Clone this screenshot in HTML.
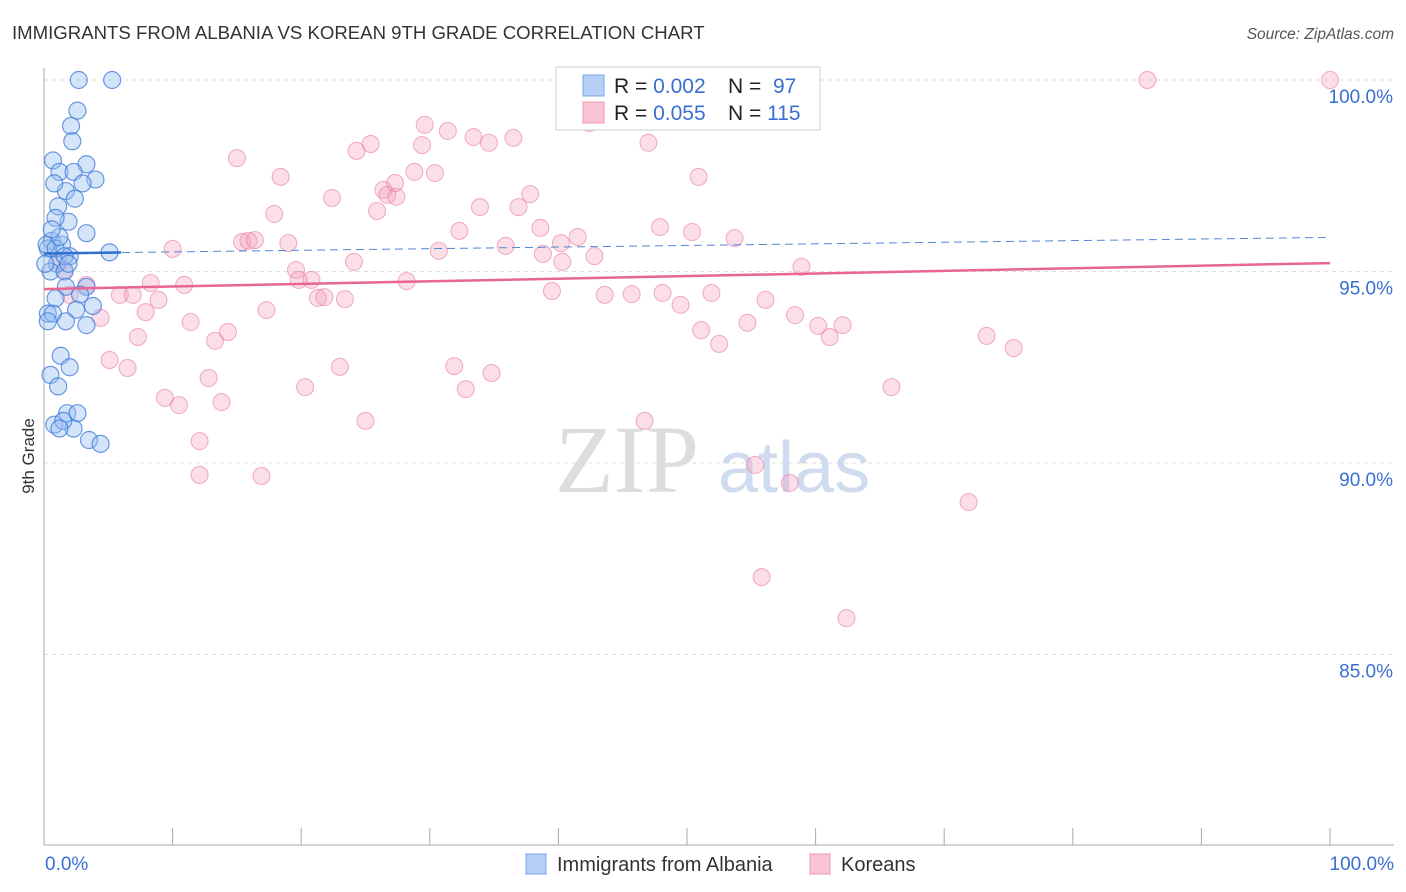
<!DOCTYPE html>
<html><head><meta charset="utf-8">
<style>
body{margin:0;background:#fff;font-family:"Liberation Sans",sans-serif;}
svg{display:block}
</style></head>
<body>
<svg id="chart" width="1406" height="892">
<text x="12" y="39" font-size="18.6" fill="#333">IMMIGRANTS FROM ALBANIA VS KOREAN 9TH GRADE CORRELATION CHART</text>
<text x="1394" y="39" font-size="15.5" fill="#555" text-anchor="end" font-style="italic">Source: ZipAtlas.com</text>
<text x="34" y="456" font-size="17" fill="#333" transform="rotate(-90 34 456)" text-anchor="middle">9th Grade</text>
<g id="grid"></g>
<text x="555" y="492" font-size="96" fill="#ddd" font-family="Liberation Serif,serif">ZIP</text>
<text x="718" y="492" font-size="72" fill="#cfdcf0">atlas</text>
<g id="marks"></g>
<g id="legend">
<rect x="556" y="67" width="264" height="63" fill="#fff" stroke="#ccc"/>
<rect x="583" y="75" width="21" height="21" fill="#b6d0f5" stroke="#7aa5e6"/>
<rect x="583" y="102" width="21" height="21" fill="#f9c4d3" stroke="#ee9ab3"/>
<text x="614" y="93" font-size="21" fill="#222">R = <tspan fill="#3a6fd0">0.002</tspan></text>
<text x="728" y="93" font-size="21" fill="#222">N = <tspan fill="#3a6fd0">&#160;97</tspan></text>
<text x="614" y="120" font-size="21" fill="#222">R = <tspan fill="#3a6fd0">0.055</tspan></text>
<text x="728" y="120" font-size="21" fill="#222">N = <tspan fill="#3a6fd0">115</tspan></text>
</g>
<g>
<rect x="526" y="854" width="20" height="20" fill="#b6d0f5" stroke="#7aa5e6"/>
<text x="557" y="871" font-size="20" fill="#333">Immigrants from Albania</text>
<rect x="810" y="854" width="20" height="20" fill="#f9c4d3" stroke="#ee9ab3"/>
<text x="841" y="871" font-size="20" fill="#333">Koreans</text>
</g>
</svg>
<script>
const blueX=[2.7,5.3,2.6,2.1,2.2,0.7,3.3,1.2,2.3,4.0,3.0,1.7,0.8,1.1,1.9,0.9,3.3,0.6,1.4,5.1,0.3,1.0,2.0,0.5,1.6,1.7,3.3,2.8,3.8,2.5,0.3,0.7,1.7,3.3,0.3,1.3,2.0,0.5,1.1,1.8,2.6,0.8,2.3,3.5,4.4,1.5,1.2,0.1,0.9,2.4,0.2,0.9,1.2,0.6,1.6,1.9];
const blueY=[100,100,99.2,98.8,98.4,97.9,97.8,97.6,97.6,97.4,97.3,97.1,97.3,96.7,96.3,96.4,96.0,95.8,95.7,95.5,95.6,95.2,95.4,95.0,95.0,94.6,94.6,94.4,94.1,94.0,93.9,93.9,93.7,93.6,93.7,92.8,92.5,92.3,92.0,91.3,91.3,91.0,90.9,90.6,90.5,91.1,90.9,95.2,94.3,96.9,95.7,95.6,95.9,96.1,95.4,95.2];
const pinkX=[1.2,1.6,2.0,3.3,4.4,5.1,5.9,6.5,6.9,7.3,7.9,8.3,8.9,9.4,10.0,10.5,10.9,11.4,12.1,12.1,12.8,13.3,13.8,14.3,15.0,15.4,15.9,16.4,16.9,17.3,17.9,18.4,19.0,19.6,19.8,20.3,20.8,21.3,21.8,22.4,23.0,23.4,24.1,24.3,25.0,25.4,25.9,26.4,26.7,27.4,27.3,28.2,28.8,29.4,29.6,30.4,30.7,31.4,31.9,32.3,32.8,33.4,33.9,34.6,34.8,35.9,36.5,36.9,37.8,38.6,38.8,39.5,40.2,40.3,40.9,41.5,42.4,42.8,43.6,45.7,46.7,47.0,47.9,48.1,49.5,50.4,50.9,51.1,51.9,52.5,53.7,54.7,55.3,55.8,56.1,58.0,58.4,58.9,60.2,61.1,62.1,62.4,65.9,71.9,73.3,75.4,85.8,100.0,48.8];
const pinkY=[95.25,95.04,94.39,94.65,93.79,92.69,94.39,92.48,94.39,93.29,93.94,94.70,94.26,91.70,95.59,91.51,94.65,93.68,90.57,89.69,92.22,93.19,91.59,93.42,97.96,95.77,95.80,95.82,89.66,93.99,96.50,97.47,95.74,95.04,94.78,91.98,94.78,94.31,94.33,96.92,92.51,94.28,95.25,98.15,91.10,98.33,96.58,97.13,97.00,96.95,97.31,94.75,97.60,98.30,98.83,97.57,95.54,98.67,92.53,96.06,91.93,98.51,96.68,98.36,92.35,95.67,98.49,96.68,97.02,96.14,95.46,94.49,95.74,95.25,100.0,95.90,98.88,95.40,94.39,94.41,91.10,98.36,96.16,94.44,94.13,96.03,97.47,93.47,94.44,93.11,95.87,93.66,89.95,87.02,94.26,89.48,93.86,95.12,93.58,93.29,93.60,85.95,91.98,88.98,93.32,93.00,100.0,100.0,99.9];
const yTicks=[100,95,90,85];
const yTickLabels=["100.0%","95.0%","90.0%","85.0%"];
const blueTrend=[95.47,95.89];
const pinkTrend=[94.54,95.22];
const ns="http://www.w3.org/2000/svg";
const X=v=>44+v*12.86, Y=v=>80+(100-v)*38.3;
function mk(t,a,p){const e=document.createElementNS(ns,t);for(const k in a)e.setAttribute(k,a[k]);p.appendChild(e);return e;}
const grid=document.getElementById('grid'),marks=document.getElementById('marks');
yTicks.forEach((t,i)=>{
 const l=mk('line',{x1:44,x2:1394,y1:Y(t),y2:Y(t),stroke:'#ddd','stroke-dasharray':'4,4'},grid);
 
 
 const tx=mk('text',{x:1393,y:Y(t)+23,'font-size':19,fill:'#3a6fd0','text-anchor':'end'},grid);
 tx.textContent=yTickLabels[i];
 
 
});
const ax=mk('line',{x1:44,x2:44,y1:68,y2:845,stroke:'#aaa'},grid);


const bx=mk('line',{x1:44,x2:1394,y1:845,y2:845,stroke:'#aaa'},grid);


for(let i=1;i<=10;i++){const tk=mk('line',{x1:X(i*10),x2:X(i*10),y1:828,y2:845,stroke:'#aaa'},grid);
 
 }
[[0,'0.0%','start',45],[100,'100.0%','end',1394]].forEach(a=>{const t=mk('text',{x:a[3],y:870,'font-size':19,fill:'#3a6fd0','text-anchor':a[2]},grid);t.textContent=a[1];
 
 });
pinkX.forEach((x,i)=>{const c=mk('circle',{cx:X(x),cy:Y(pinkY[i]),r:8.5,fill:'rgba(244,160,188,0.35)',stroke:'rgba(232,120,158,0.6)','stroke-width':1},marks);
 
 });
blueX.forEach((x,i)=>{const c=mk('circle',{cx:X(x),cy:Y(blueY[i]),r:8.5,fill:'rgba(150,190,240,0.4)',stroke:'rgba(60,120,215,0.75)','stroke-width':1.2},marks);
 
 });
const bt=mk('line',{x1:X(0),x2:X(100),y1:Y(blueTrend[0]),y2:Y(blueTrend[1]),stroke:'#4f86d6','stroke-width':1,'stroke-dasharray':'8,5'},marks);


const bs=mk('line',{x1:X(0),x2:X(6),y1:Y(blueTrend[0]),y2:Y(blueTrend[0]+(blueTrend[1]-blueTrend[0])*0.06),stroke:'#2e6fd0','stroke-width':2.5},marks);


const pt=mk('line',{x1:X(0),x2:X(100),y1:Y(pinkTrend[0]),y2:Y(pinkTrend[1]),stroke:'#e8668f','stroke-width':2.5},marks);


</script>
</body></html>
